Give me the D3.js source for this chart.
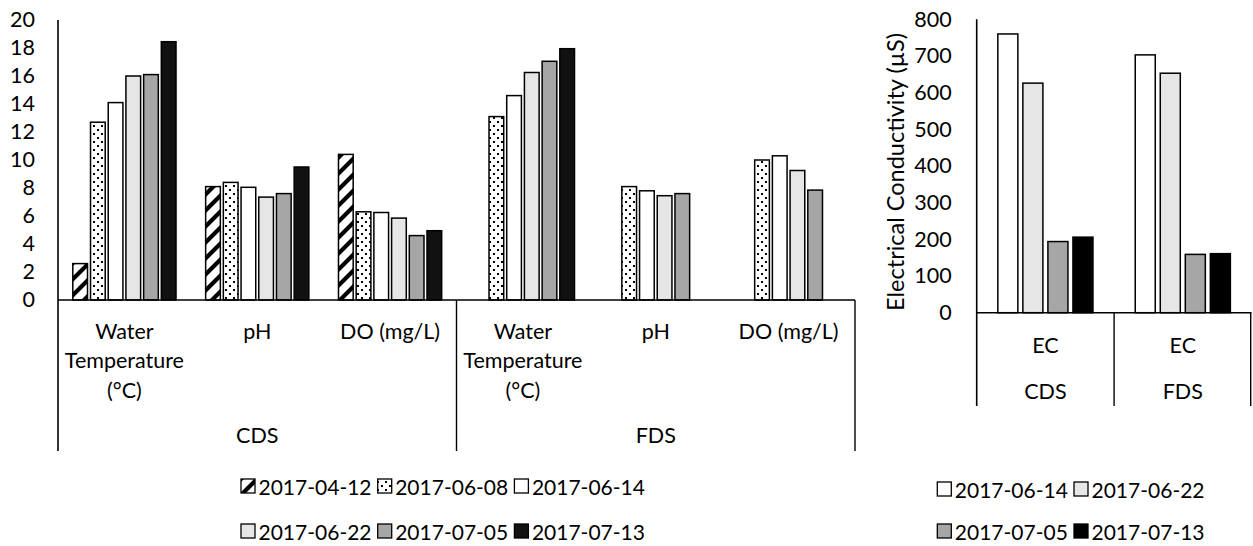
<!DOCTYPE html>
<html><head><meta charset="utf-8">
<script src="https://cdn.jsdelivr.net/npm/d3@7"></script>
<style>
html,body{margin:0;padding:0;background:#fff;}
text{font-family:Lato,"Open Sans",sans-serif;fill:#000;}
</style></head>
<body>
<svg id="c" width="1253" height="546"></svg>
<script>
// ---------- data ----------
const groups = ["CDS", "FDS"];
const params = ["Water Temperature (°C)", "pH", "DO (mg/L)"];
const paramLabelLines = [["Water", "Temperature", "(°C)"], ["pH"], ["DO (mg/L)"]];
const dates = ["2017-04-12", "2017-06-08", "2017-06-14", "2017-06-22", "2017-07-05", "2017-07-13"];
// values per date, in order: CDS WT, CDS pH, CDS DO, FDS WT, FDS pH, FDS DO
const v20170412 = [2.6, 8.1, 10.4, null, null, null];
const v20170608 = [12.7, 8.4, 6.3, 13.1, 8.1, 10.0];
const v20170614 = [14.1, 8.05, 6.25, 14.6, 7.8, 10.3];
const v20170622 = [16.0, 7.35, 5.85, 16.25, 7.45, 9.25];
const v20170705 = [16.1, 7.6, 4.6, 17.05, 7.6, 7.85];
const v20170713 = [18.45, 9.5, 4.95, 17.95, null, null];
const leftTicks = [0, 2, 4, 6, 8, 10, 12, 14, 16, 18, 20];

const ecDates = ["2017-06-14", "2017-06-22", "2017-07-05", "2017-07-13"];
const ecParam = "EC";
const ecCDS = [760, 626, 194, 206];
const ecFDS = [703, 653, 159, 161];
const rightTicks = [0, 100, 200, 300, 400, 500, 600, 700, 800];
const rightTitle = "Electrical Conductivity (µS)";

// ---------- styles ----------
const fills = {
  "2017-04-12": "url(#hatch)",
  "2017-06-08": "url(#dots)",
  "2017-06-14": "#ffffff",
  "2017-06-22": "#e6e6e6",
  "2017-07-05": "#a6a6a6",
  "2017-07-13": "#111111"
};
const fillsR = {"2017-06-14": "#ffffff", "2017-06-22": "#e6e6e6", "2017-07-05": "#a6a6a6", "2017-07-13": "#000000"};

const svg = d3.select("#c");
const defs = svg.append("defs");
const ph = defs.append("pattern").attr("id", "hatch").attr("patternUnits", "userSpaceOnUse")
  .attr("width", 16).attr("height", 16);
ph.append("rect").attr("width", 16).attr("height", 16).attr("fill", "#fff");
ph.append("path").attr("d", "M-4,4 L4,-4 M0,16 L16,0 M12,20 L20,12")
  .attr("stroke", "#000").attr("stroke-width", 4.2);
const pd = defs.append("pattern").attr("id", "dots").attr("patternUnits", "userSpaceOnUse")
  .attr("width", 8).attr("height", 8);
pd.append("rect").attr("width", 8).attr("height", 8).attr("fill", "#fff");
pd.append("rect").attr("x", 1).attr("y", 1).attr("width", 2).attr("height", 2).attr("fill", "#000");
pd.append("rect").attr("x", 5).attr("y", 5).attr("width", 2).attr("height", 2).attr("fill", "#000");

const FS = 21.5;
const FSL = 21;

// ---------- left chart ----------
const series = [v20170412, v20170608, v20170614, v20170622, v20170705, v20170713];
const cats = [];
groups.forEach(g => params.forEach(p => cats.push(g + "|" + p)));

const L = {x0: 58, x1: 855, yTop: 20, yZero: 300, yBottom: 451};
const x0 = d3.scaleBand().domain(cats).range([L.x0, L.x1]).padding(0);
const x1 = d3.scaleBand().domain(dates).range([0, x0.bandwidth()]).paddingInner(0.17).paddingOuter(0.837);
const yL = d3.scaleLinear().domain([0, 20]).range([L.yZero, L.yTop]);

const gL = svg.append("g");
const barData = [];
cats.forEach((c, ci) => dates.forEach((d, di) => {
  const v = series[di][ci];
  if (v != null) barData.push({c, d, v});
}));
gL.selectAll("rect.bar").data(barData).enter().append("rect")
  .attr("x", b => x0(b.c) + x1(b.d))
  .attr("y", b => yL(b.v))
  .attr("width", x1.bandwidth())
  .attr("height", b => yL(0) - yL(b.v))
  .attr("fill", b => fills[b.d])
  .attr("stroke", "#000").attr("stroke-width", 1.5);

const axL = gL.append("g").attr("transform", `translate(${L.x0},0)`)
  .call(d3.axisLeft(yL).tickValues(leftTicks).tickSize(0).tickPadding(23));
axL.select(".domain").remove();
axL.selectAll("text").style("font-size", FS + "px").style("font-family", "Lato").attr("fill", "#000");

// axis lines
gL.append("line").attr("x1", L.x0).attr("x2", L.x0).attr("y1", L.yTop).attr("y2", L.yBottom)
  .attr("stroke", "#000").attr("stroke-width", 1.6);
gL.append("line").attr("x1", L.x0).attr("x2", L.x1).attr("y1", L.yZero).attr("y2", L.yZero)
  .attr("stroke", "#000").attr("stroke-width", 1.6);
const groupEdges = [x0(groups[1] + "|" + params[0]), L.x1];
groupEdges.forEach(x => gL.append("line").attr("x1", x).attr("x2", x).attr("y1", L.yZero).attr("y2", L.yBottom)
  .attr("stroke", "#000").attr("stroke-width", 1.4));

// category labels
const lineYs = [331, 360, 390];
cats.forEach((c, ci) => {
  const lines = paramLabelLines[ci % 3];
  const cx = x0(c) + x0.bandwidth() / 2;
  lines.forEach((t, li) => gL.append("text").attr("x", cx).attr("y", lineYs[li])
    .attr("text-anchor", "middle").attr("dominant-baseline", "central").style("font-size", FS + "px").text(t));
});
groups.forEach((g, gi) => {
  const a = x0(g + "|" + params[0]), b = x0(g + "|" + params[2]) + x0.bandwidth();
  gL.append("text").attr("x", (a + b) / 2).attr("y", 435).attr("text-anchor", "middle")
    .attr("dominant-baseline", "central").style("font-size", FS + "px").text(g);
});

// legend left
const legL = {x: 241, step: 136.7, rows: [486, 531], perRow: 3};
dates.forEach((d, i) => {
  const r = Math.floor(i / legL.perRow), k = i % legL.perRow;
  const x = legL.x + k * legL.step, y = legL.rows[r];
  gL.append("rect").attr("x", x).attr("y", y - 7).attr("width", 14).attr("height", 14)
    .attr("fill", fills[d]).attr("stroke", "#000").attr("stroke-width", 1.3);
  gL.append("text").attr("x", x + 17.5).attr("y", y).attr("dominant-baseline", "central")
    .style("font-size", FSL + "px").text(d);
});

// ---------- right chart ----------
const R = {x0: 976.7, x1: 1251.5, yTop: 19.3, yZero: 312.7, yBottom: 406};
const ecSeries = [ecCDS, ecFDS];
const xr0 = d3.scaleBand().domain(groups).range([R.x0, R.x1]).padding(0);
const xr1 = d3.scaleBand().domain(ecDates).range([0, xr0.bandwidth()]).paddingInner(0.2).paddingOuter(0.844);
const yR = d3.scaleLinear().domain([0, 800]).range([R.yZero, R.yTop]);
const gR = svg.append("g");
const ecBars = [];
groups.forEach((g, gi) => ecDates.forEach((d, di) => ecBars.push({g, d, v: ecSeries[gi][di]})));
gR.selectAll("rect.bar").data(ecBars).enter().append("rect")
  .attr("x", b => xr0(b.g) + xr1(b.d))
  .attr("y", b => yR(b.v))
  .attr("width", xr1.bandwidth())
  .attr("height", b => yR(0) - yR(b.v))
  .attr("fill", b => fillsR[b.d])
  .attr("stroke", "#000").attr("stroke-width", 1.5);

const axR = gR.append("g").attr("transform", `translate(${R.x0},0)`)
  .call(d3.axisLeft(yR).tickValues(rightTicks).tickSize(0).tickPadding(25));
axR.select(".domain").remove();
axR.selectAll("text").style("font-size", FS + "px").style("font-family", "Lato").attr("fill", "#000");

gR.append("line").attr("x1", R.x0).attr("x2", R.x0).attr("y1", R.yTop).attr("y2", R.yBottom)
  .attr("stroke", "#000").attr("stroke-width", 1.6);
gR.append("line").attr("x1", R.x0).attr("x2", R.x1).attr("y1", R.yZero).attr("y2", R.yZero)
  .attr("stroke", "#000").attr("stroke-width", 1.6);
[xr0(groups[1]), R.x1 - 0.8].forEach(x => gR.append("line").attr("x1", x).attr("x2", x)
  .attr("y1", R.yZero).attr("y2", R.yBottom).attr("stroke", "#000").attr("stroke-width", 1.4));

groups.forEach(g => {
  const cx = xr0(g) + xr0.bandwidth() / 2;
  gR.append("text").attr("x", cx).attr("y", 345).attr("text-anchor", "middle")
    .attr("dominant-baseline", "central").style("font-size", FS + "px").text(ecParam);
  gR.append("text").attr("x", cx).attr("y", 391).attr("text-anchor", "middle")
    .attr("dominant-baseline", "central").style("font-size", FS + "px").text(g);
});

gR.append("text").attr("transform", "translate(895,172) rotate(-90)")
  .attr("text-anchor", "middle").attr("dominant-baseline", "central")
  .style("font-size", "23.5px").text(rightTitle);

// legend right
const legR = {x: 937.3, step: 136.7, rows: [489, 531], perRow: 2};
ecDates.forEach((d, i) => {
  const r = Math.floor(i / legR.perRow), k = i % legR.perRow;
  const x = legR.x + k * legR.step, y = legR.rows[r];
  gR.append("rect").attr("x", x).attr("y", y - 7).attr("width", 14).attr("height", 14)
    .attr("fill", fillsR[d]).attr("stroke", "#000").attr("stroke-width", 1.3);
  gR.append("text").attr("x", x + 17.5).attr("y", y).attr("dominant-baseline", "central")
    .style("font-size", FSL + "px").text(d);
});
</script>
</body></html>
